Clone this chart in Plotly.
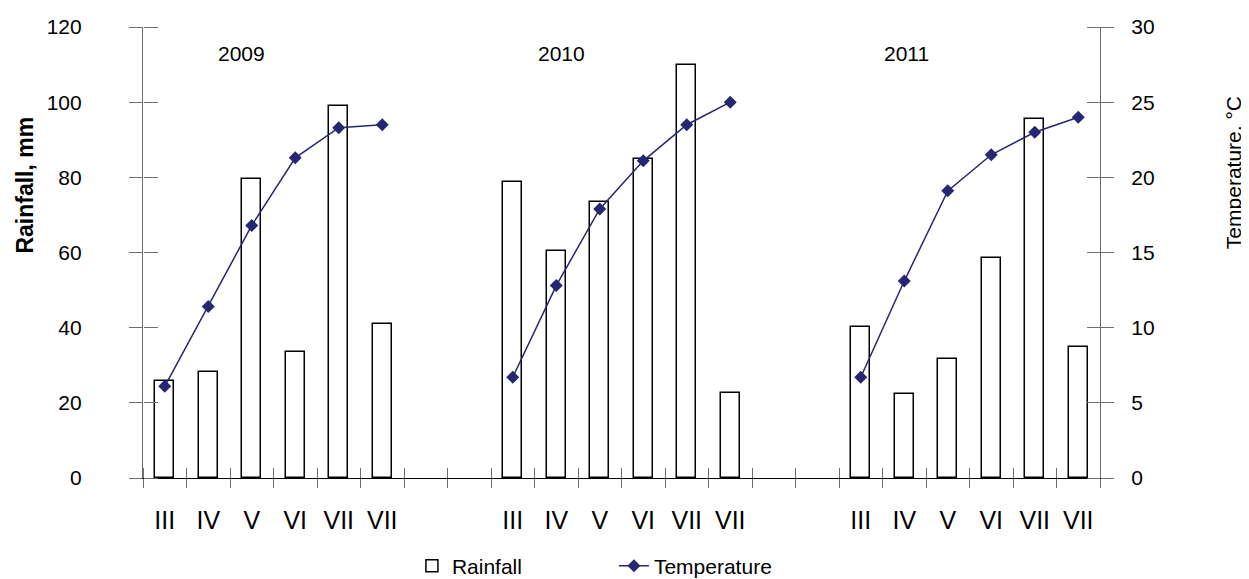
import plotly.graph_objects as go

years = ["2009", "2010", "2011"]
months = ["III", "IV", "V", "VI", "VII", "VII"]
rainfall = {
    "2009": [25.7, 28.3, 79.6, 33.6, 99.0, 41.1],
    "2010": [78.8, 60.5, 73.4, 85.0, 109.9, 22.7],
    "2011": [40.2, 22.3, 31.6, 58.5, 95.4, 34.8],
}
temperature = {
    "2009": [6.1, 11.4, 16.8, 21.3, 23.3, 23.5],
    "2010": [6.7, 12.8, 17.9, 21.1, 23.5, 25.0],
    "2011": [6.7, 13.1, 19.1, 21.5, 23.0, 24.0],
}
gap_slots = 2
rain_ticks = [0, 20, 40, 60, 80, 100, 120]
temp_ticks = [0, 5, 10, 15, 20, 25, 30]

FONT = "Liberation Sans, Arial, sans-serif"
NAVY = "#262673"
AX = "#6e6e6e"

group = len(months) + gap_slots
n_slots = group * (len(years) - 1) + len(months)

fig = go.Figure()
bx, by, tx, ty, lx, lt = [], [], [], [], [], []
for yi, yr in enumerate(years):
    for mi, m in enumerate(months):
        pos = yi * group + mi
        bx.append(pos); by.append(rainfall[yr][mi])
        lx.append(pos); lt.append(m)
    tx.append(None); ty.append(None)
    for mi, m in enumerate(months):
        tx.append(yi * group + mi); ty.append(temperature[yr][mi])

fig.add_trace(go.Bar(x=bx, y=by, name="Rainfall", width=0.43,
                     marker=dict(color="white", line=dict(color="black", width=1.5)),
                     yaxis="y"))
fig.add_trace(go.Scatter(x=tx, y=ty, name="Temperature", mode="lines+markers",
                         line=dict(color=NAVY, width=1.5),
                         marker=dict(symbol="diamond", size=10, color=NAVY),
                         connectgaps=False, yaxis="y2"))
# invisible helper traces so the tick-only axes are drawn
fig.add_trace(go.Scatter(x=[bx[0]], y=[by[0]], xaxis="x2", yaxis="y3", mode="markers",
                         marker=dict(size=1, opacity=0), showlegend=False, hoverinfo="skip"))
fig.add_trace(go.Scatter(x=[tx[1]], y=[ty[1]], xaxis="x", yaxis="y4", mode="markers",
                         marker=dict(size=1, opacity=0), showlegend=False, hoverinfo="skip"))

bounds = [i - 0.5 for i in range(n_slots + 1)]
xr = [-0.5, n_slots - 0.5]

fig.update_layout(
    width=1241, height=571,
    margin=dict(l=135, r=149, t=19, b=101, autoexpand=False),
    paper_bgcolor="white", plot_bgcolor="white",
    font=dict(family=FONT, size=21, color="black"),
    showlegend=True,
    legend=dict(orientation="h", x=0.281, xanchor="left", y=-0.15, yanchor="top",
                font=dict(size=21), entrywidth=157, bgcolor="rgba(0,0,0,0)"),
    bargap=0,
    xaxis=dict(range=xr, tickmode="array", tickvals=lx, ticktext=lt, ticks="",
               showline=True, linecolor="black", linewidth=1, showgrid=False, zeroline=False,
               tickfont=dict(size=25), ticklabelstandoff=20, automargin=False,
               minor=dict(tickmode="array", tickvals=bounds, ticks="outside", ticklen=9,
                          tickcolor=AX, tickwidth=1, showgrid=False)),
    # tick-only axis: side top at the bottom edge, so its outside ticks point up into the plot
    xaxis2=dict(range=xr, overlaying="x", anchor="free", position=0, side="top",
                tickmode="array", tickvals=bounds, ticks="outside", ticklen=10, tickcolor=AX,
                automargin=False, showticklabels=False, showline=False, showgrid=False,
                zeroline=False),
    yaxis=dict(range=[0, 120], tickmode="array", tickvals=rain_ticks, ticks="outside",
               ticklen=13, tickcolor=AX, showline=True, linecolor=AX, linewidth=1.2,
               showgrid=False, zeroline=False, tickfont=dict(size=21), ticklabelstandoff=43,
               automargin=False),
    yaxis3=dict(range=[0, 120], overlaying="y", anchor="free", position=0, side="right",
                tickmode="array", tickvals=rain_ticks, ticks="outside", ticklen=14,
                tickcolor=AX, automargin=False, showticklabels=False, showline=False,
                showgrid=False, zeroline=False),
    yaxis2=dict(range=[0, 30], overlaying="y", anchor="x", side="right", tickmode="array",
                tickvals=temp_ticks, ticks="outside", ticklen=13, tickcolor=AX,
                showline=True, linecolor=AX, linewidth=1.2, showgrid=False, zeroline=False,
                tickfont=dict(size=21), ticklabelstandoff=13, automargin=False),
    yaxis4=dict(range=[0, 30], overlaying="y", anchor="free", position=1, side="left",
                tickmode="array", tickvals=temp_ticks, ticks="outside", ticklen=13,
                tickcolor=AX, automargin=False, showticklabels=False, showline=False,
                showgrid=False, zeroline=False),
)

year_pos = [0.103, 0.4375, 0.798]
for yr, xp in zip(years, year_pos):
    fig.add_annotation(text=yr, x=xp, y=0.942, xref="paper", yref="paper",
                       showarrow=False, font=dict(size=21), xanchor="center", yanchor="middle")

fig.add_annotation(text="<b>Rainfall, mm</b>", x=-0.123, y=0.649, xref="paper", yref="paper",
                   textangle=-90, showarrow=False, font=dict(size=23),
                   xanchor="center", yanchor="middle")
fig.add_annotation(text="Temperature, °C", x=1.139, y=0.676, xref="paper", yref="paper",
                   textangle=-90, showarrow=False, font=dict(size=21),
                   xanchor="center", yanchor="middle")

fig.write_html("out.html")
